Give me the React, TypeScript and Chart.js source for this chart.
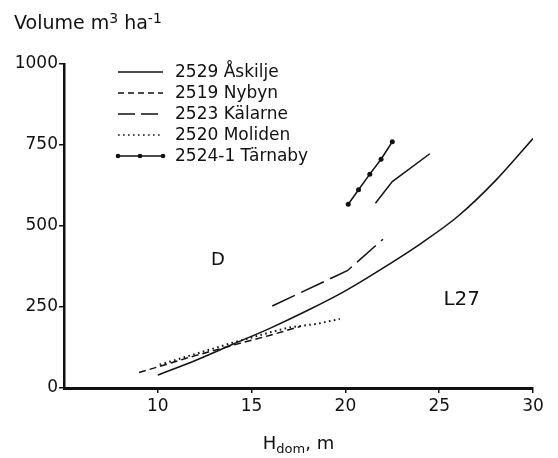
import React, { useEffect, useRef } from "react";
import { Chart, registerables } from "chart.js";

Chart.register(...registerables);

// ---- data ----
const xTicks = [10, 15, 20, 25, 30];
const yTicks = [0, 250, 500, 750, 1000];

// reference curve L27
const l27H = [10, 12, 14, 16, 18, 20, 22, 24, 26, 28, 30];
const l27V = [40, 85, 135, 185, 240, 300, 370, 445, 530, 640, 770];

const askiljeH = [21.6, 22.5, 24.5];
const askiljeV = [570, 637, 723];

const nybynH = [9.0, 10, 12, 14, 16, 17.6];
const nybynV = [48, 65, 100, 132, 163, 190];

const kalarneH = [16.1, 20.1, 22.0];
const kalarneV = [253, 362, 459];

const molidenH = [10.1, 12, 14, 16, 17, 18.5, 19.7];
const molidenV = [72, 105, 140, 172, 187, 198, 213];

const tarnabyH = [20.15, 20.7, 21.3, 21.9, 22.5];
const tarnabyV = [567, 612, 660, 706, 760];

const ink = "#111111";
const FONT = '"DejaVu Sans", "Liberation Sans", sans-serif';

const pts = (xs: number[], ys: number[]) => xs.map((x, i) => ({ x, y: ys[i] }));

const overlayPlugin = {
  id: "overlay",
  afterDraw(chart: any) {
    const ctx = chart.ctx as CanvasRenderingContext2D;
    ctx.save();
    ctx.fillStyle = ink;
    ctx.strokeStyle = ink;

    // y-axis title with superscripts
    ctx.textBaseline = "alphabetic";
    ctx.textAlign = "left";
    let x = 14;
    const base = 29;
    const big = `19px ${FONT}`;
    const small = `14px ${FONT}`;
    const parts: [string, boolean][] = [
      ["Volume m", false],
      ["3", true],
      [" ha", false],
      ["-1", true],
    ];
    parts.forEach(([t, sup]) => {
      ctx.font = sup ? small : big;
      ctx.fillText(t, x, sup ? base - 6 : base);
      x += ctx.measureText(t).width;
    });

    // x-axis title with subscript
    const xParts: [string, boolean][] = [
      ["H", false],
      ["dom", true],
      [", m", false],
    ];
    let w = 0;
    xParts.forEach(([t, sub]) => {
      ctx.font = sub ? `13px ${FONT}` : `18px ${FONT}`;
      w += ctx.measureText(t).width;
    });
    const area = chart.chartArea;
    let xx = (area.left + area.right) / 2 - w / 2;
    xParts.forEach(([t, sub]) => {
      ctx.font = sub ? `13px ${FONT}` : `18px ${FONT}`;
      ctx.fillText(t, xx, sub ? 453 : 449);
      xx += ctx.measureText(t).width;
    });

    // region labels
    ctx.textAlign = "center";
    ctx.textBaseline = "middle";
    ctx.font = `18px ${FONT}`;
    ctx.fillText("D", chart.scales.x.getPixelForValue(13.2), chart.scales.y.getPixelForValue(395));
    ctx.font = `20px ${FONT}`;
    ctx.fillText("L27", chart.scales.x.getPixelForValue(26.2), chart.scales.y.getPixelForValue(272));

    // legend
    ctx.textAlign = "left";
    ctx.font = `17px ${FONT}`;
    const items = chart.data.datasets.filter((d: any) => d.label);
    items.forEach((ds: any, i: number) => {
      const y = 72 + i * 21;
      ctx.lineWidth = 1.5;
      ctx.setLineDash(ds.legendDash || []);
      ctx.beginPath();
      ctx.moveTo(118, y);
      ctx.lineTo(163, y);
      ctx.stroke();
      ctx.setLineDash([]);
      if (ds.pointRadius > 0) {
        [118, 140, 163].forEach((px) => {
          ctx.beginPath();
          ctx.arc(px, y, 2.3, 0, Math.PI * 2);
          ctx.fill();
        });
      }
      ctx.fillText(ds.label, 175, y + 1);
    });
    ctx.restore();
  },
};

export default function App() {
  const ref = useRef<HTMLCanvasElement>(null);
  useEffect(() => {
    if (!ref.current) return;
    const common = {
      borderColor: ink,
      backgroundColor: ink,
      borderWidth: 1.5,
      pointRadius: 0,
      fill: false,
      tension: 0,
    };
    const chart = new Chart(ref.current, {
      type: "line",
      data: {
        datasets: [
          { ...common, label: "2529 Åskilje", data: pts(askiljeH, askiljeV), legendDash: [] } as any,
          { ...common, label: "2519 Nybyn", data: pts(nybynH, nybynV), borderDash: [7, 4], legendDash: [6, 4] } as any,
          { ...common, label: "2523 Kälarne", data: pts(kalarneH, kalarneV), borderDash: [25, 7], legendDash: [17, 6] } as any,
          { ...common, label: "2520 Moliden", data: pts(molidenH, molidenV), borderDash: [1.6, 3.4], borderWidth: 2, legendDash: [1.6, 3.4] } as any,
          { ...common, label: "2524-1 Tärnaby", data: pts(tarnabyH, tarnabyV), pointRadius: 2.5, pointBackgroundColor: ink, pointBorderWidth: 0, legendDash: [] } as any,
          { ...common, label: "", data: pts(l27H, l27V), tension: 0.4, cubicInterpolationMode: "monotone" } as any,
        ],
      },
      options: {
        animation: false,
        responsive: true,
        maintainAspectRatio: false,
        layout: { padding: { top: 64, right: 25, left: 0, bottom: 0 } },
        plugins: { legend: { display: false }, tooltip: { enabled: false }, title: { display: false } },
        scales: {
          x: {
            type: "linear",
            min: 5,
            max: 30,
            afterBuildTicks: (s: any) => {
              s.ticks = xTicks.map((v) => ({ value: v }));
            },
            afterFit: (s: any) => {
              s.height = 70;
            },
            grid: { drawOnChartArea: false, drawTicks: true, tickLength: 5, color: ink, lineWidth: 1.5 },
            border: { display: true, color: ink, width: 3 },
            ticks: { color: ink, font: { family: FONT, size: 17 }, padding: 3, maxRotation: 0, callback: (v: any) => String(v) },
          },
          y: {
            type: "linear",
            min: 0,
            max: 1000,
            afterBuildTicks: (s: any) => {
              s.ticks = yTicks.map((v) => ({ value: v }));
            },
            afterFit: (s: any) => {
              s.width = 64;
            },
            grid: { drawOnChartArea: false, drawTicks: true, tickLength: 5, color: ink, lineWidth: 1.5 },
            border: { display: true, color: ink, width: 2.5 },
            ticks: { color: ink, font: { family: FONT, size: 17 }, padding: 1, callback: (v: any) => String(v) },
          },
        },
      } as any,
      plugins: [overlayPlugin],
    });
    return () => chart.destroy();
  }, []);
  return (
    <div style={{ position: "fixed", left: 0, top: 0, width: 558, height: 458, background: "#fff" }}>
      <canvas ref={ref} />
    </div>
  );
}
